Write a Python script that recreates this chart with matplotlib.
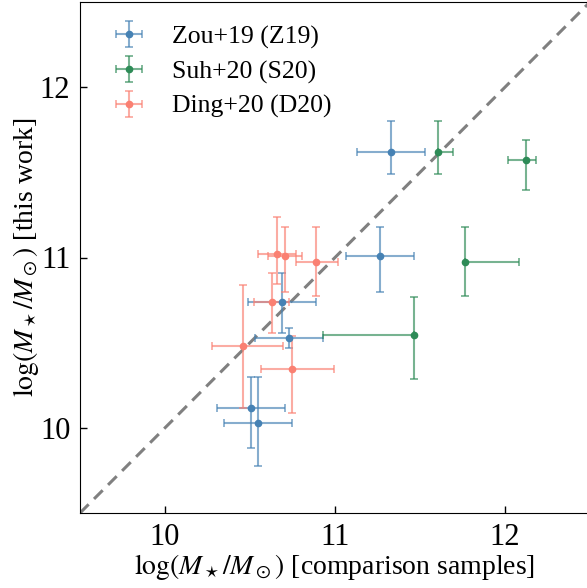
import matplotlib
matplotlib.use("Agg")
import matplotlib.pyplot as plt
import numpy as np

plt.rcParams['font.family'] = ['Liberation Serif', 'DejaVu Serif']
plt.rcParams['mathtext.fontset'] = 'stix'

# Zou+19 (Z19)
z19_x = [10.688, 10.729, 10.506, 10.545, 11.265, 11.327]
z19_y = [10.739, 10.525, 10.119, 10.029, 11.006, 11.622]
z19_xerr_lo = [0.2, 0.2, 0.2, 0.2, 0.2, 0.2]
z19_xerr_hi = [0.2, 0.2, 0.2, 0.2, 0.2, 0.2]
z19_yerr_lo = [0.181, 0.054, 0.235, 0.253, 0.206, 0.134]
z19_yerr_hi = [0.172, 0.061, 0.177, 0.271, 0.172, 0.178]

# Suh+20 (S20)
s20_x = [11.606, 12.125, 11.765, 11.465]
s20_y = [11.622, 11.572, 10.975, 10.547]
s20_xerr_lo = [0.0, 0.109, 0.0, 0.536]
s20_xerr_hi = [0.09, 0.059, 0.319, 0.0]
s20_yerr_lo = [0.134, 0.174, 0.203, 0.261]
s20_yerr_hi = [0.178, 0.118, 0.203, 0.220]

# Ding+20 (D20)
d20_x = [10.657, 10.708, 10.888, 10.627, 10.457, 10.747]
d20_y = [11.019, 11.006, 10.975, 10.739, 10.478, 10.345]
d20_xerr_lo = [0.110, 0.100, 0.119, 0.102, 0.179, 0.180]
d20_xerr_hi = [0.112, 0.100, 0.128, 0.102, 0.239, 0.249]
d20_yerr_lo = [0.172, 0.208, 0.203, 0.181, 0.359, 0.259]
d20_yerr_hi = [0.218, 0.172, 0.203, 0.172, 0.363, 0.192]

labels = ['Zou+19 (Z19)', 'Suh+20 (S20)', 'Ding+20 (D20)']
colors = ['#4682b4', '#2e8b57', '#fa8072']

xlim = (9.5, 12.5)
ylim = (9.5, 12.5)
xticks = [10, 11, 12]
yticks = [10, 11, 12]

fig = plt.figure(figsize=(5.87, 5.88), dpi=100)
ax = fig.add_axes([80/587, 75/588, 510/587, 511/588])

ax.plot(xlim, ylim, ls='--', color='gray', lw=2.2, dashes=(4, 2.5), zorder=1)

datasets = [
    (z19_x, z19_y, z19_xerr_lo, z19_xerr_hi, z19_yerr_lo, z19_yerr_hi),
    (s20_x, s20_y, s20_xerr_lo, s20_xerr_hi, s20_yerr_lo, s20_yerr_hi),
    (d20_x, d20_y, d20_xerr_lo, d20_xerr_hi, d20_yerr_lo, d20_yerr_hi),
]
for (x, y, xl, xh, yl, yh), lab, c in zip(datasets, labels, colors):
    eb = ax.errorbar(x, y, xerr=[xl, xh], yerr=[yl, yh], fmt='o', color=c,
                     ms=4.5, elinewidth=1.5, capsize=3, capthick=1.3,
                     ecolor=c, label=lab, zorder=3)
    for art in eb[1]:
        art.set_alpha(0.65)
    for art in eb[2]:
        art.set_alpha(0.65)

ax.set_xlim(*xlim)
ax.set_ylim(*ylim)
ax.set_xticks(xticks)
ax.set_yticks(yticks)
ax.tick_params(direction='in', length=5, width=1, labelsize=22, pad=7,
               top=False, right=False)
ax.set_xlabel(r'$\log(M_\star/M_\odot)$ [comparison samples]', fontsize=20, labelpad=0)
ax.set_ylabel(r'$\log(M_\star/M_\odot)$ [this work]', fontsize=20, labelpad=-1)

leg = ax.legend(loc='upper left', frameon=False, fontsize=18.5,
                handlelength=2.0, borderaxespad=0.5, labelspacing=0.45,
                handletextpad=0.7)

fig.savefig('out.png', dpi=100)
